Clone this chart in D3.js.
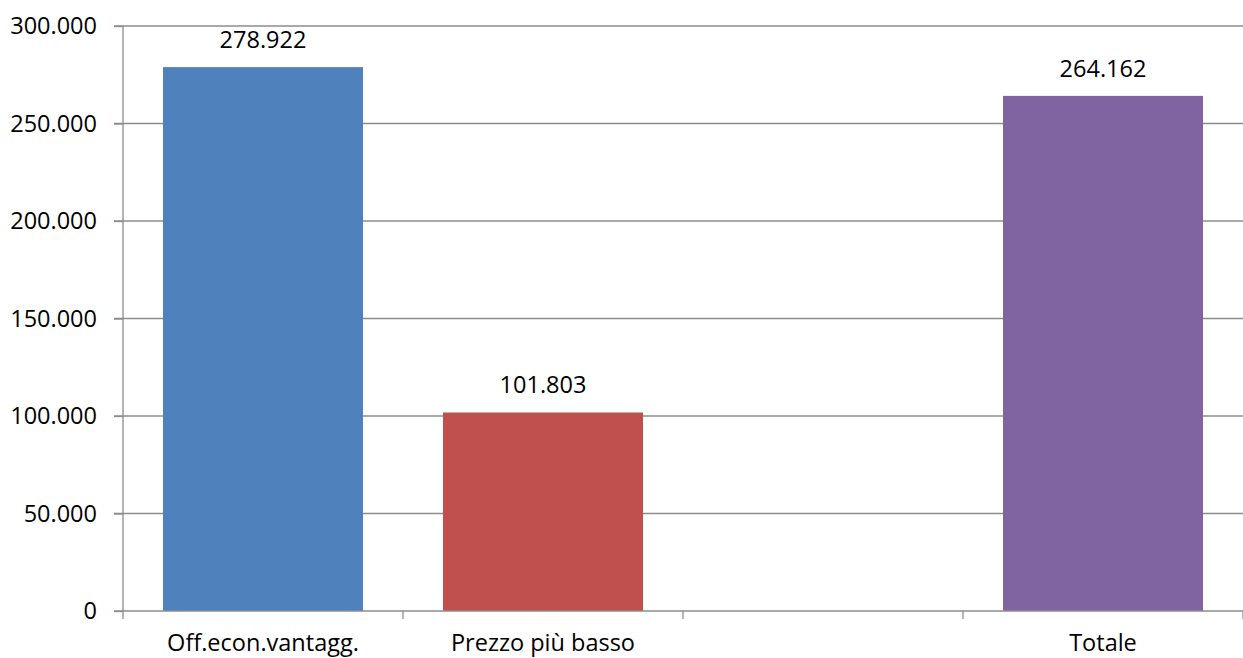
<!DOCTYPE html>
<html><head><meta charset="utf-8">
<script src="https://cdn.jsdelivr.net/npm/d3@7"></script>
<style>body{margin:0;background:#fff}svg{display:block}text{font-family:"Open Sans",sans-serif}</style>
</head><body><svg id="c" width="1243" height="658"></svg>
<script>
const categories = ["Off.econ.vantagg.", "Prezzo più basso", "", "Totale"];
const values = [278922, 101803, null, 264162];
const colors = ["#4F81BD", "#C0504D", "#9BBB59", "#8064A2"];
const yTicks = [0, 50000, 100000, 150000, 200000, 250000, 300000];

const FS = 23.5;
const fmt = v => v === 0 ? "0" : d3.format(",")(v).replace(/,/g, ".");
const svg = d3.select("#c");
const m = {l: 123, r: 0, t: 26, b: 47};
const W = 1243, H = 658;
const x = d3.scaleBand().domain(d3.range(categories.length)).range([m.l, W - m.r]).paddingInner(0).paddingOuter(0);
const y = d3.scaleLinear().domain([0, 300000]).range([H - m.b, m.t]);
const gridColor = "#8c8c8c";

// gridlines
svg.append("g").selectAll("line").data(yTicks.filter(d => d > 0)).join("line")
  .attr("x1", m.l - 9).attr("x2", W).attr("y1", d => y(d)).attr("y2", d => y(d))
  .attr("stroke", gridColor).attr("stroke-width", 1.3);

// bars
const bw = x.bandwidth() * 200 / 280;
svg.append("g").selectAll("rect").data(values.map((v, i) => ({v, i})).filter(d => d.v != null)).join("rect")
  .attr("x", d => x(d.i) + (x.bandwidth() - bw) / 2).attr("width", bw)
  .attr("y", d => y(d.v)).attr("height", d => y(0) - y(d.v))
  .attr("fill", d => colors[d.i]);

// value labels
svg.append("g").selectAll("text").data(values.map((v, i) => ({v, i})).filter(d => d.v != null)).join("text")
  .attr("x", d => x(d.i) + x.bandwidth() / 2).attr("y", d => y(d.v) - 19)
  .attr("text-anchor", "middle").attr("font-size", FS).attr("fill", "#000")
  .text(d => fmt(d.v));

// y axis
const ya = svg.append("g").attr("transform", `translate(${m.l},0)`)
  .call(d3.axisLeft(y).tickValues(yTicks).tickFormat(fmt).tickSize(9).tickPadding(17));
ya.select(".domain").attr("stroke", gridColor).attr("stroke-width", 1.3).attr("d", `M0,${y(300000)}V${y(0)}`);
ya.selectAll(".tick line").attr("stroke", gridColor).attr("stroke-width", 1.3);
ya.selectAll("text").attr("font-size", FS).attr("fill", "#000").style("font-family", '"Open Sans",sans-serif');

// x axis
const xa = svg.append("g").attr("transform", `translate(0,${y(0)})`);
xa.append("line").attr("x1", m.l - 9).attr("x2", W).attr("stroke", gridColor).attr("stroke-width", 1.3);
const bounds = d3.range(categories.length + 1).map(i => m.l + i * x.step());
xa.selectAll(".xt").data(bounds).join("line").attr("class", "xt")
  .attr("x1", d => d).attr("x2", d => d).attr("y1", 0).attr("y2", 8)
  .attr("stroke", gridColor).attr("stroke-width", 1.3);
xa.selectAll(".xl").data(categories.map((c, i) => ({c, i}))).join("text").attr("class", "xl")
  .attr("x", d => x(d.i) + x.bandwidth() / 2).attr("y", 40)
  .attr("text-anchor", "middle").attr("font-size", FS).attr("fill", "#000")
  .text(d => d.c);
</script></body></html>
